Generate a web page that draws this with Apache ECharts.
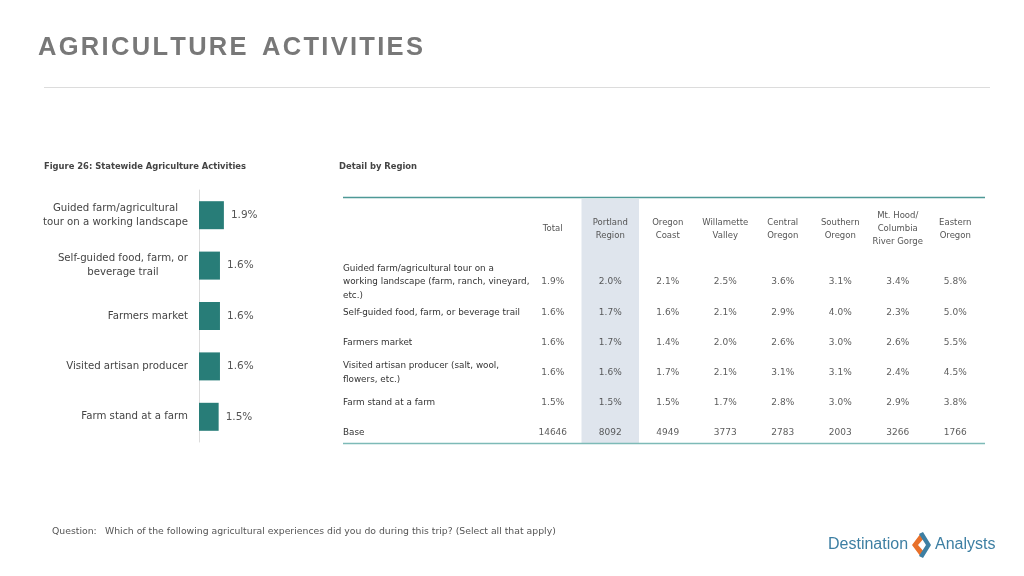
<!DOCTYPE html>
<html><head><meta charset="utf-8">
<script src="https://cdn.jsdelivr.net/npm/echarts@6/dist/echarts.min.js"></script>
<style>html,body{margin:0;padding:0;background:#fff}#c{width:1024px;height:576px}</style>
</head><body><div id="c"></div>
<script>
// ---- Data ----
const activities = ['Guided farm/agricultural\ntour on a working landscape', 'Self-guided food, farm, or\nbeverage trail', 'Farmers market', 'Visited artisan producer', 'Farm stand at a farm'];
const statewide = [1.9, 1.6, 1.6, 1.6, 1.5];

const regions = ['Total', 'Portland\nRegion', 'Oregon\nCoast', 'Willamette\nValley', 'Central\nOregon', 'Southern\nOregon', 'Mt. Hood/\nColumbia\nRiver Gorge', 'Eastern\nOregon'];
const rowLabels = ['Guided farm/agricultural tour on a\nworking landscape (farm, ranch, vineyard,\netc.)', 'Self-guided food, farm, or beverage trail', 'Farmers market', 'Visited artisan producer (salt, wool,\nflowers, etc.)', 'Farm stand at a farm', 'Base'];
const guidedTour      = [1.9, 2.0, 2.1, 2.5, 3.6, 3.1, 3.4, 5.8];
const selfGuidedTrail = [1.6, 1.7, 1.6, 2.1, 2.9, 4.0, 2.3, 5.0];
const farmersMarket   = [1.6, 1.7, 1.4, 2.0, 2.6, 3.0, 2.6, 5.5];
const artisanProducer = [1.6, 1.6, 1.7, 2.1, 3.1, 3.1, 2.4, 4.5];
const farmStand       = [1.5, 1.5, 1.5, 1.7, 2.8, 3.0, 2.9, 3.8];
const baseCounts      = [14646, 8092, 4949, 3773, 2783, 2003, 3266, 1766];
const highlightRegion = 1; // Portland Region

// ---- Build ----
const tableRows = [guidedTour, selfGuidedTrail, farmersMarket, artisanProducer, farmStand];
const cells = [];
tableRows.forEach((row, r) => row.forEach((v, c) => cells.push([c, r, v.toFixed(1) + '%'])));
baseCounts.forEach((v, c) => cells.push([c, tableRows.length, String(v)]));

const FONT = 'DejaVu Sans';
const titleText = 'AGRICULTURE ACTIVITIES';
const titleRich = titleText.split('').map(ch => ch === ' ' ? '{s| }' : '{l|' + ch + '}').join('');

const chart = echarts.init(document.getElementById('c'), null, {renderer: 'canvas'});
chart.setOption({
  animation: false,
  backgroundColor: '#fff',
  title: {
    text: titleRich, left: 33, top: 30,
    textStyle: {
      rich: {
        l: {fontFamily: 'Liberation Sans', fontWeight: 'bold', fontSize: 25.5, color: '#787878', padding: [0, 2.3, 0, 0]},
        s: {fontFamily: 'Liberation Sans', fontSize: 25.5, padding: [0, 6, 0, 0]}
      }
    }
  },
  grid: [
    {left: 199, top: 190, width: 131, height: 252},
    {left: 524, top: 267, width: 460, height: 181}
  ],
  xAxis: [
    {gridIndex: 0, type: 'value', min: 0, max: 10, show: false},
    {gridIndex: 1, type: 'category', data: regions, position: 'top', z: 5,
     axisLine: {show: false}, axisTick: {show: false}, splitLine: {show: false},
     axisLabel: {interval: 0, margin: 38, verticalAlign: 'middle', lineHeight: 13, fontSize: 8.5, color: '#555', fontFamily: FONT}}
  ],
  yAxis: [
    {gridIndex: 0, type: 'category', data: activities, inverse: true,
     axisLine: {show: true, lineStyle: {color: '#dcdcdc', width: 1}}, axisTick: {show: false},
     axisLabel: {interval: 0, margin: 11, lineHeight: 14, fontSize: 10.2, color: '#444', fontFamily: FONT,
       formatter: v => v.split('\n').map(l => '{m|' + l + '}').join('\n'),
       rich: {m: {align: 'center', fontSize: 10.2, color: '#444', fontFamily: FONT, lineHeight: 14}}}},
    {gridIndex: 1, type: 'category', data: rowLabels, inverse: true, z: 5,
     axisLine: {show: false}, axisTick: {show: false},
     axisLabel: {interval: 0, align: 'left', margin: 181, verticalAlign: 'middle', lineHeight: 13.5, fontSize: 8.8, color: '#333', fontFamily: FONT}}
  ],
  series: [
    {type: 'bar', xAxisIndex: 0, yAxisIndex: 0, data: statewide, barWidth: 28,
     itemStyle: {color: '#287d78'},
     label: {show: true, position: 'right', distance: 7, fontSize: 10.5, color: '#555', fontFamily: FONT,
       formatter: p => p.value.toFixed(1) + '%'}},
    {type: 'custom', xAxisIndex: 1, yAxisIndex: 1, silent: true, z: 1,
     data: [[highlightRegion, 0]],
     renderItem: (params, api) => {
       const cs = params.coordSys;
       const x = api.coord([api.value(0), 0])[0];
       const w = api.size([1, 0])[0];
       return {type: 'rect', shape: {x: x - w / 2, y: cs.y - 68, width: w, height: cs.height + 63},
               style: {fill: '#dfe5ed'}};
     }},
    {type: 'scatter', xAxisIndex: 1, yAxisIndex: 1, z: 3, symbolSize: 1,
     itemStyle: {color: 'transparent'}, data: cells,
     label: {show: true, position: 'inside', fontSize: 9, color: '#333', fontFamily: FONT,
       formatter: p => p.value[2]}}
  ],
  graphic: [
    {type: 'line', shape: {x1: 44, y1: 87.5, x2: 990, y2: 87.5}, style: {stroke: '#dcdcdc', lineWidth: 1}},
    {type: 'text', x: 44, y: 167, style: {text: 'Figure 26: Statewide Agriculture Activities', font: 'bold 8.4px "DejaVu Sans"', fill: '#444', textVerticalAlign: 'middle'}},
    {type: 'text', x: 339, y: 167, style: {text: 'Detail by Region', font: 'bold 8.4px "DejaVu Sans"', fill: '#444', textVerticalAlign: 'middle'}},
    {type: 'line', shape: {x1: 343, y1: 197.5, x2: 985, y2: 197.5}, style: {stroke: '#4e9996', lineWidth: 1.5}, z: 10},
    {type: 'line', shape: {x1: 343, y1: 443.5, x2: 985, y2: 443.5}, style: {stroke: '#7dbab7', lineWidth: 1.5}, z: 10},
    {type: 'text', x: 52, y: 532, style: {text: 'Question:', font: '9.3px "DejaVu Sans"', fill: '#555', textVerticalAlign: 'middle'}},
    {type: 'text', x: 105, y: 532, style: {text: 'Which of the following agricultural experiences did you do during this trip? (Select all that apply)', font: '9.3px "DejaVu Sans"', fill: '#555', textVerticalAlign: 'middle'}},
    {type: 'text', x: 828, y: 545, style: {text: 'Destination', font: '16px "Liberation Sans"', fill: '#3d7fa3', textVerticalAlign: 'middle'}},
    {type: 'text', x: 935, y: 545, style: {text: 'Analysts', font: '16px "Liberation Sans"', fill: '#3d7fa3', textVerticalAlign: 'middle'}},
    {type: 'polygon', shape: {points: [[921, 533], [912, 545], [921, 557], [925, 553], [918, 545], [925, 537]]}, style: {fill: '#e8702a'}},
    {type: 'polygon', shape: {points: [[919, 534], [923, 532], [931, 545], [923, 558], [919, 556], [926, 545]]}, style: {fill: '#3d7fa3'}}
  ]
});
</script>
</body></html>
